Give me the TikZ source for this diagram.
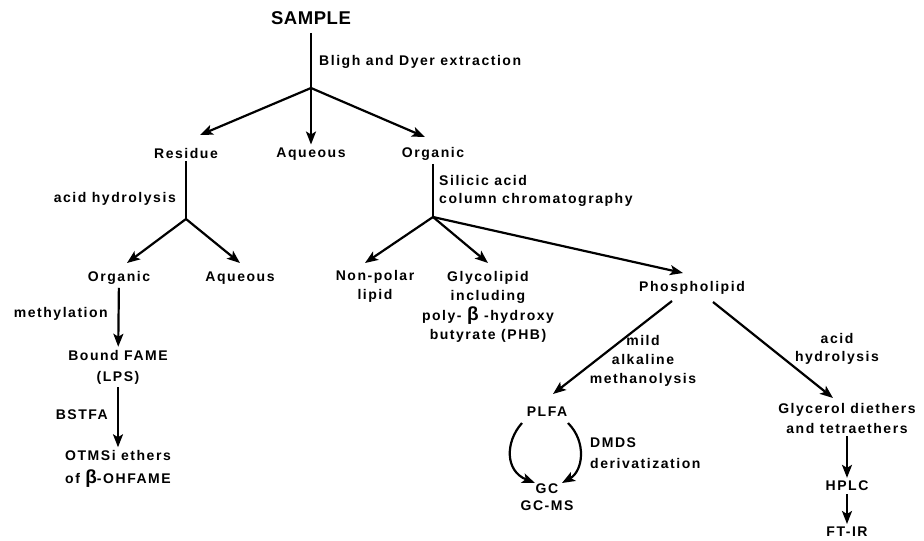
\documentclass[tikz,border=0pt]{standalone}
\usepackage{fontspec}
\newfontfamily\lbf[LetterSpace=11]{Liberation Sans}
\newfontfamily\sbf[LetterSpace=3]{Liberation Sans}
\usetikzlibrary{arrows.meta}
\begin{document}
\begin{tikzpicture}[x=1pt,y=-1pt,
  lbl/.style={font=\lbf\bfseries\fontsize{14}{19}\selectfont, align=center, inner sep=3pt},
  ln/.style={line width=2.2pt},
  arr/.style={ln, -{Stealth[length=13pt,width=10pt,inset=3pt]}}]
\useasboundingbox[fill=white] (0,0) rectangle (924,541);

% nodes
\node[font=\sbf\bfseries\fontsize{18.5}{20}\selectfont, inner sep=8pt] (sample) at (311,18) {SAMPLE};
\node[lbl, anchor=west] (bligh) at (316,62) {Bligh and Dyer extraction};
\coordinate (j1) at (311,88);
\node[lbl] (res) at (186,153) {Residue};
\node[lbl] (aq1) at (311,154) {Aqueous};
\node[lbl] (org1) at (433,154) {Organic};
\node[lbl, anchor=east] (acidh) at (179,199) {acid hydrolysis};
\coordinate (j2) at (186,219);
\node[lbl] (org2) at (119,278) {Organic};
\node[lbl] (aq2) at (240,278) {Aqueous};
\node[lbl, anchor=east] (meth) at (111,314) {methylation};
\node[lbl, font=\lbf\bfseries\fontsize{14}{21}\selectfont] (bfame) at (118,367) {Bound FAME\\(LPS)};
\node[lbl, anchor=east] (bstfa) at (111,415) {BSTFA};
\node[lbl, font=\lbf\bfseries\fontsize{14}{23}\selectfont] (otmsi) at (118,469) {OTMSi ethers\\of {\fontsize{19}{19}\selectfont β}-OHFAME};
\node[lbl, anchor=west, align=left, font=\lbf\bfseries\fontsize{14}{18}\selectfont] (sil) at (436,191) {Silicic acid\\column chromatography};
\coordinate (j3) at (433,217);
\node[lbl] (nonpol) at (375,286) {Non-polar\\lipid};
\node[lbl, font=\lbf\bfseries\fontsize{14}{19.3}\selectfont] (glyco) at (488,307) {Glycolipid\\including\\poly- {\fontsize{19}{19}\selectfont β} -hydroxy\\butyrate (PHB)};
\node[lbl] (phos) at (692,288) {Phospholipid};
\node[lbl] (mild) at (643,361) {mild\\alkaline\\methanolysis};
\node[lbl, font=\lbf\bfseries\fontsize{14}{18}\selectfont] (acid2) at (837,349) {acid\\hydrolysis};
\node[lbl] (plfa) at (547,412) {PLFA};
\node[lbl, font=\lbf\bfseries\fontsize{14}{17}\selectfont] (gc) at (547,497) {GC\\GC-MS};
\node[lbl, anchor=west, align=left, font=\lbf\bfseries\fontsize{14}{21}\selectfont] (dmds) at (587,453) {DMDS\\derivatization};
\node[lbl, font=\lbf\bfseries\fontsize{14}{20}\selectfont] (glyc) at (847,418) {Glycerol diethers\\and tetraethers};
\node[lbl] (hplc) at (847,486) {HPLC};
\node[lbl] (ftir) at (847,532) {FT-IR};

% connectors
\draw[ln] (sample) -- (j1);
\draw[arr] (j1) -- ([shift={(14,-18)}]res.center);
\draw[arr] (j1) -- (aq1);
\draw[arr] (j1) -- ([shift={(-8,-17)}]org1.center);
\draw[ln] (res) -- (j2);
\draw[arr] (j2) -- ([shift={(8,-15)}]org2.center);
\draw[arr] (j2) -- ([shift={(0,-15)}]aq2.center);
\draw[arr] (org2) -- (bfame);
\draw[arr] (bfame) -- (otmsi);
\draw[ln] (org1) -- (j3);
\draw[arr] (j3) -- ([shift={(-10,-23)}]nonpol.center);
\draw[arr] (j3) -- ([shift={(0,-44)}]glyco.center);
\draw[arr] (j3) -- ([shift={(-9,-15)}]phos.center);
\draw[arr] ([shift={(-20,13)}]phos.center) -- ([shift={(6,-18)}]plfa.center);
\draw[arr] ([shift={(21,14)}]phos.center) -- ([shift={(-14,-20)}]glyc.center);
\draw[arr] ([shift={(-25,11)}]plfa.center) .. controls ([shift={(-42,30)}]plfa.center) and ([shift={(-42,-26)}]gc.center) .. ([shift={(-12,-14)}]gc.center);
\draw[arr] ([shift={(21,11)}]plfa.center) .. controls ([shift={(40,30)}]plfa.center) and ([shift={(36,-26)}]gc.center) .. ([shift={(15,-14)}]gc.center);
\draw[arr] (glyc) -- (hplc);
\draw[arr] (hplc) -- (ftir);
\end{tikzpicture}
\end{document}
